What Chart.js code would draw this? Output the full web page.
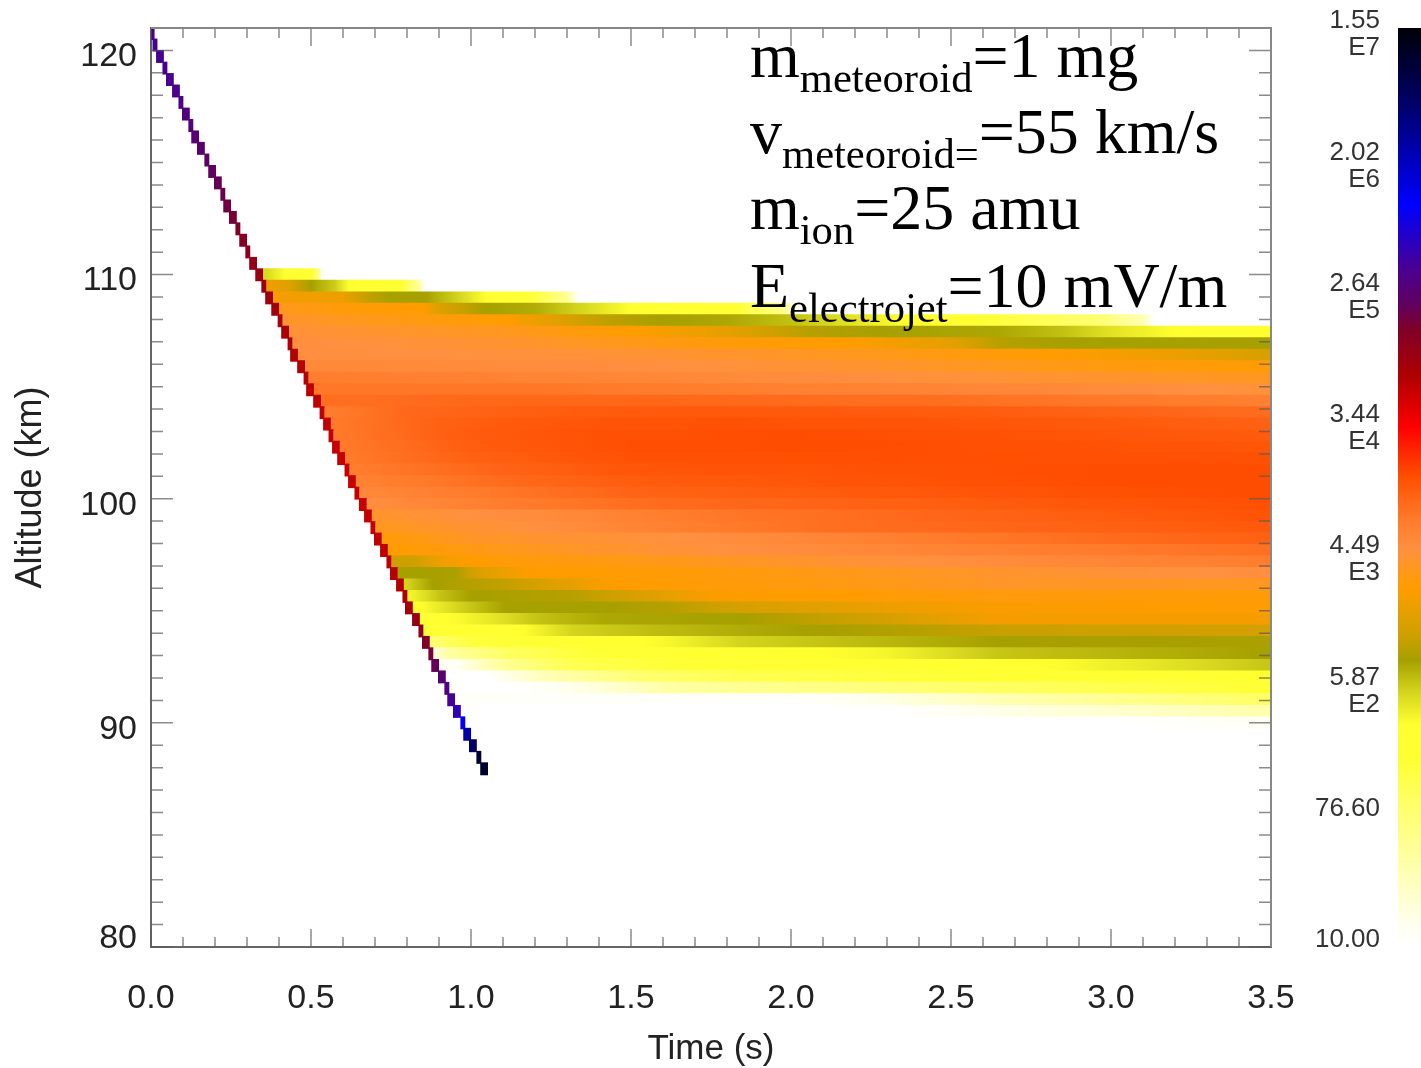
<!DOCTYPE html>
<html>
<head>
<meta charset="utf-8">
<title>Meteoroid plasma density</title>
<script src="https://cdn.jsdelivr.net/npm/chart.js@4"></script>
<style>
    body { margin: 0; background: #fff; overflow: hidden; }
    #plot { position: absolute; left: 0; top: 0; }
    #colorbar { position: absolute; left: 1290px; top: 0; }
</style>
</head>
<body>
<canvas id="plot" width="1421" height="1068"></canvas>
<canvas id="colorbar" width="131" height="1068"></canvas>
<script>
// axis values
const timeLabels = [0, 0.5, 1, 1.5, 2, 2.5, 3, 3.5];
const altitudeLabels = [80, 90, 100, 110, 120];
const timeTicks = [0, .1, .2, .3, .4, .5, .6, .7, .8, .9, 1, 1.1, 1.2, 1.3, 1.4, 1.5, 1.6, 1.7, 1.8, 1.9, 2, 2.1, 2.2, 2.3, 2.4, 2.5, 2.6, 2.7, 2.8, 2.9, 3, 3.1, 3.2, 3.3, 3.4, 3.5];
const altitudeTicks = [80, 81, 82, 83, 84, 85, 86, 87, 88, 89, 90, 91, 92, 93, 94, 95, 96, 97, 98, 99, 100, 101, 102, 103, 104, 105, 106, 107, 108, 109, 110, 111, 112, 113, 114, 115, 116, 117, 118, 119, 120];

// colour bar
const barTicks = [10, 76.6, 587, 4490, 34400, 264000, 2020000, 15500000];
const barLabels = [['10.00', ''], ['76.60', ''], ['5.87', 'E2'], ['4.49', 'E3'], ['3.44', 'E4'], ['2.64', 'E5'], ['2.02', 'E6'], ['1.55', 'E7']];
const rampLevels = [1, 1.15, 1.52, 1.92, 2.26, 2.5, 2.7, 2.93, 3.07, 3.22, 3.41, 3.49, 3.68, 3.88, 4.18, 4.5, 4.84, 5.16, 5.33, 5.56, 6, 6.64, 7.19];
const rampColors = ['#ffffff', '#fffff0', '#ffffb0', '#ffff70', '#ffff35', '#ffff30', '#d8d820', '#a6a000', '#c8a000', '#e0a000', '#ff9c00', '#ff9a10', '#ff9040', '#ff7a2a', '#ff4d00', '#ff0000', '#b00000', '#800028', '#600060', '#4a0090', '#0000ff', '#000070', '#000008'];

// meteoroid head, one cell per altitude step (density as log10)
const headAlt = [120.75, 120.24, 119.73, 119.21, 118.70, 118.19, 117.68, 117.16, 116.65, 116.14, 115.63, 115.11, 114.60, 114.09, 113.58, 113.06, 112.55, 112.04, 111.53, 111.01, 110.50, 109.99, 109.48, 108.96, 108.45, 107.94, 107.43, 106.91, 106.40, 105.89, 105.38, 104.86, 104.35, 103.84, 103.33, 102.81, 102.30, 101.79, 101.28, 100.76, 100.25, 99.74, 99.23, 98.71, 98.20, 97.69, 97.18, 96.66, 96.15, 95.64, 95.13, 94.61, 94.10, 93.59, 93.08, 92.56, 92.05, 91.54, 91.03, 90.51, 90.00, 89.49, 88.98, 88.46, 87.95];
const headStart = [0, .007, .018, .038, .049, .068, .088, .099, .119, .128, .146, .169, .181, .199, .219, .228, .246, .266, .278, .297, .309, .328, .347, .359, .378, .398, .409, .429, .437, .459, .479, .487, .509, .529, .540, .557, .568, .584, .607, .618, .638, .652, .668, .688, .699, .718, .738, .749, .768, .788, .796, .818, .838, .849, .869, .878, .899, .919, .928, .946, .969, .978, .996, 1.019, 1.031];
const headEnd = [.009, .018, .038, .049, .069, .088, .099, .119, .130, .148, .166, .180, .201, .219, .230, .248, .266, .277, .298, .308, .329, .348, .358, .379, .398, .409, .429, .440, .457, .479, .490, .507, .529, .540, .560, .568, .588, .604, .618, .638, .649, .672, .688, .699, .719, .738, .749, .769, .788, .799, .816, .838, .849, .869, .880, .898, .919, .930, .948, .966, .980, .998, 1.016, 1.030, 1.051];
const headLevels = [5.58, 5.58, 5.57, 5.56, 5.56, 5.55, 5.52, 5.48, 5.45, 5.42, 5.39, 5.36, 5.33, 5.30, 5.27, 5.24, 5.20, 5.16, 5.12, 5.08, 5.04, 5.00, 4.97, 4.94, 4.92, 4.90, 4.88, 4.86, 4.84, 4.82, 4.80, 4.79, 4.78, 4.77, 4.76, 4.75, 4.75, 4.74, 4.74, 4.74, 4.74, 4.74, 4.75, 4.75, 4.76, 4.77, 4.79, 4.81, 4.83, 4.86, 4.92, 5.0, 5.08, 5.16, 5.22, 5.3, 5.4, 5.5, 5.58, 5.72, 5.98, 6.4, 6.7, 6.95, 7.0];

// plasma rows behind the head: the first row sits at headAlt[21], next rows follow it down
const firstRow = 21;
const rowTimes = [
    [.36, .42, .50, .525, .535],
    [.37, .42, .50, .575, .62, .78, .84, .857],
    [.38, .60, .68, .75, .86, .96, 1.05, 1.20, 1.30, 1.34],
    [.40, .60, .85, .90, 1.05, 1.20, 1.37, 1.50, 1.80, 1.97, 2.03],
    [.42, .80, 1.10, 1.25, 1.40, 1.60, 1.80, 2.00, 2.30, 2.65, 2.97, 3.10, 3.14],
    [.44, 1.10, 1.50, 1.80, 2.05, 2.30, 2.65, 2.85, 3.00, 3.20, 3.50],
    [.45, 1.20, 1.80, 2.20, 2.50, 2.65, 2.85, 3.20, 3.50],
    [.47, 1.40, 2.20, 2.80, 3.20, 3.50],
    [.49, 1.50, 2.30, 2.90, 3.50],
    [.50, 1.30, 2.00, 2.80, 3.50],
    [.52, 1.20, 2.00, 2.80, 3.50],
    [.54, 1.00, 1.60, 2.50, 3.50],
    [.55, .80, 1.30, 1.80, 2.60, 3.50],
    [.57, .90, 1.30, 1.80, 2.60, 3.50],
    [.58, .95, 1.40, 2.00, 2.60, 3.50],
    [.60, 1.00, 1.50, 2.20, 3.50],
    [.62, 1.00, 1.50, 2.30, 3.50],
    [.63, 1.10, 1.50, 2.30, 3.00, 3.50],
    [.65, 1.10, 1.50, 2.30, 3.00, 3.50],
    [.66, 1.10, 1.50, 2.30, 3.00, 3.50],
    [.68, 1.10, 1.60, 2.40, 3.00, 3.50],
    [.70, 1.00, 1.30, 1.80, 2.50, 3.00, 3.50],
    [.71, 1.10, 1.60, 2.10, 2.80, 3.50],
    [.73, 1.00, 1.50, 2.00, 2.40, 3.00, 3.50],
    [.75, 1.00, 1.42, 1.80, 2.65, 3.50],
    [.76, .82, .92, 1.10, 1.60, 2.00, 2.65, 3.50],
    [.78, .95, 1.03, 1.18, 1.70, 2.65, 3.50],
    [.80, .88, 1.11, 1.27, 1.45, 2.20, 2.65, 3.50],
    [.81, .90, 1.00, 1.32, 1.53, 1.75, 2.65, 3.50],
    [.83, .96, 1.11, 1.42, 1.63, 1.84, 2.30, 2.65, 3.50],
    [.85, 1.06, 1.22, 1.42, 1.84, 2.20, 2.65, 3.50],
    [.86, 1.16, 1.32, 1.53, 1.84, 2.30, 2.65, 3.50],
    [.88, 1.00, 1.42, 1.63, 1.84, 2.65, 3.50],
    [.89, .93, 1.11, 1.42, 1.84, 2.30, 2.65, 3.50],
    [.95, 1.00, 1.11, 1.32, 1.84, 2.65, 3.12, 3.50],
    [1.05, 1.11, 1.25, 1.53, 1.84, 2.65, 3.50],
    [1.15, 1.42, 1.63, 1.84, 2.65, 3.50],
    [2.03, 2.30, 2.65, 3.50],
    [2.30, 2.65, 3.50],
    [3.00, 3.50]
];
const rowLevels = [
    [2.7, 2.5, 2.3, 1.8, 1.0],
    [3.3, 3.25, 2.93, 2.75, 2.5, 2.3, 1.6, 1.0],
    [3.35, 3.3, 3.05, 2.93, 2.93, 2.72, 2.5, 2.2, 1.7, 1.0],
    [3.55, 3.45, 3.41, 3.2, 2.93, 2.88, 2.68, 2.5, 2.35, 1.8, 1.0],
    [3.6, 3.5, 3.41, 3.25, 3.05, 2.93, 2.9, 2.8, 2.55, 2.2, 1.9, 1.5, 1.0],
    [3.65, 3.55, 3.41, 3.25, 3.0, 2.93, 2.9, 2.8, 2.65, 2.5, 2.4],
    [3.7, 3.6, 3.45, 3.4, 3.25, 3.0, 2.93, 2.93, 2.93],
    [3.7, 3.65, 3.55, 3.42, 3.3, 3.15],
    [3.75, 3.7, 3.6, 3.5, 3.42],
    [3.85, 3.78, 3.72, 3.62, 3.55],
    [3.9, 3.9, 3.82, 3.75, 3.65],
    [3.95, 4.0, 4.0, 3.95, 3.82],
    [3.85, 4.0, 4.08, 4.1, 4.08, 3.97],
    [3.88, 4.05, 4.12, 4.15, 4.12, 4.05],
    [3.88, 4.07, 4.15, 4.18, 4.15, 4.08],
    [3.88, 4.07, 4.17, 4.18, 4.12],
    [3.88, 4.05, 4.15, 4.17, 4.15],
    [3.85, 4.03, 4.12, 4.15, 4.18, 4.18],
    [3.8, 3.98, 4.08, 4.14, 4.18, 4.18],
    [3.75, 3.9, 4.03, 4.1, 4.16, 4.18],
    [3.7, 3.85, 3.98, 4.06, 4.12, 4.16],
    [3.6, 3.68, 3.75, 3.9, 4.02, 4.08, 4.14],
    [3.55, 3.65, 3.82, 3.95, 4.03, 4.1],
    [3.45, 3.58, 3.65, 3.75, 3.85, 3.98, 4.05],
    [3.41, 3.5, 3.6, 3.68, 3.82, 3.95],
    [3.1, 3.1, 3.35, 3.45, 3.52, 3.6, 3.72, 3.85],
    [2.93, 2.95, 3.2, 3.4, 3.45, 3.6, 3.7],
    [2.72, 2.93, 3.05, 3.22, 3.41, 3.5, 3.58, 3.55],
    [2.55, 2.78, 2.93, 3.0, 3.18, 3.38, 3.47, 3.44],
    [2.48, 2.72, 2.93, 2.93, 3.0, 3.15, 3.3, 3.38, 3.42],
    [2.42, 2.62, 2.8, 2.9, 2.93, 3.1, 3.35, 3.35],
    [2.35, 2.5, 2.72, 2.8, 2.88, 2.98, 3.07, 3.15],
    [1.9, 2.2, 2.45, 2.55, 2.72, 2.93, 2.95],
    [1.3, 1.6, 2.0, 2.3, 2.45, 2.55, 2.78, 2.93],
    [1.1, 1.3, 1.7, 2.1, 2.35, 2.45, 2.62, 2.78],
    [1.0, 1.2, 1.5, 1.92, 2.1, 2.3, 2.48],
    [1.0, 1.3, 1.6, 1.7, 2.0, 2.28],
    [1.05, 1.2, 1.5, 2.0],
    [1.0, 1.2, 1.55],
    [1.0, 1.1]
];

// text block on top of the plot: [symbol, subscript, rest]
const noteLines = [
    ['m', 'meteoroid', '=1 mg'],
    ['v', 'meteoroid=', '=55 km/s'],
    ['m', 'ion', '=25 amu'],
    ['E', 'electrojet', '=10 mV/m']
];
const noteBaselines = [77, 153, 229, 307];

const rampRgb = rampColors.map(c => [parseInt(c.slice(1, 3), 16), parseInt(c.slice(3, 5), 16), parseInt(c.slice(5, 7), 16)]);

function rampColor(level) {
    let i = 0;
    while (i < rampLevels.length - 2 && level > rampLevels[i + 1]) i++;
    const f = Math.max(0, Math.min(1, (level - rampLevels[i]) / (rampLevels[i + 1] - rampLevels[i])));
    const rgb = rampRgb[i].map((v, n) => Math.round(v + (rampRgb[i + 1][n] - v) * f));
    return `rgb(${rgb[0]},${rgb[1]},${rgb[2]})`;
}

// a row keeps its read values, the gradient only needs extra stops so it follows the ramp
function rowGradient(chart, index) {
    const xs = chart.scales.x;
    const left = xs.getPixelForValue(0);
    const right = xs.getPixelForValue(3.5);
    const gradient = chart.ctx.createLinearGradient(left, 0, right, 0);
    const times = rowTimes[index];
    const levels = rowLevels[index];
    for (let i = 0; i < times.length; i++) {
        gradient.addColorStop(times[i] / 3.5, rampColor(levels[i]));
        if (i === times.length - 1) break;
        for (let s = 1; s < 6; s++) {
            const t = times[i] + (times[i + 1] - times[i]) * s / 6;
            const l = levels[i] + (levels[i + 1] - levels[i]) * s / 6;
            gradient.addColorStop(t / 3.5, rampColor(l));
        }
    }
    return gradient;
}

const rowBars = rowTimes.map((times, i) => ({
    y: headAlt[firstRow + i],
    x: [headEnd[firstRow + i] + .004, times[times.length - 1]]
}));
const headBars = headAlt.map((alt, i) => ({ y: alt, x: [headStart[i], headEnd[i]] }));

// inward ticks on all four sides and the top and right frame lines
const frameTicks = {
    id: 'frameTicks',
    afterDatasetsDraw(chart) {
        const { ctx, chartArea: a, scales } = chart;
        ctx.save();
        ctx.strokeStyle = 'rgba(90,90,90,0.7)';
        ctx.lineWidth = 1.5;
        ctx.beginPath();
        timeTicks.forEach(t => {
            const x = scales.x.getPixelForValue(t);
            const len = timeLabels.includes(t) ? 18 : 10;
            ctx.moveTo(x, a.bottom); ctx.lineTo(x, a.bottom - len);
            ctx.moveTo(x, a.top); ctx.lineTo(x, a.top + len);
        });
        altitudeTicks.forEach(h => {
            const y = scales.y.getPixelForValue(h);
            const len = altitudeLabels.includes(h) ? 22 : 12;
            ctx.moveTo(a.left, y); ctx.lineTo(a.left + len, y);
            ctx.moveTo(a.right, y); ctx.lineTo(a.right - len, y);
        });
        ctx.stroke();
        ctx.strokeStyle = '#888';
        ctx.lineWidth = 2;
        ctx.beginPath();
        ctx.moveTo(a.left, a.top); ctx.lineTo(a.right, a.top); ctx.lineTo(a.right, a.bottom);
        ctx.stroke();
        ctx.restore();
    }
};

const noteText = {
    id: 'noteText',
    afterDraw(chart) {
        const ctx = chart.ctx;
        ctx.save();
        ctx.fillStyle = '#000';
        ctx.textBaseline = 'alphabetic';
        noteLines.forEach((line, i) => {
            let x = 750;
            ctx.font = '64px "Liberation Serif"';
            ctx.fillText(line[0], x, noteBaselines[i]);
            x += ctx.measureText(line[0]).width;
            ctx.font = '42.6px "Liberation Serif"';
            ctx.fillText(line[1], x, noteBaselines[i] + 15);
            x += ctx.measureText(line[1]).width;
            ctx.font = '64px "Liberation Serif"';
            ctx.fillText(line[2], x, noteBaselines[i]);
        });
        ctx.restore();
    }
};

const chart = new Chart(document.getElementById('plot'), {
    type: 'bar',
    plugins: [frameTicks, noteText],
    data: {
        datasets: [
            {
                label: 'Meteoroid head',
                data: headBars,
                inflateAmount: 0.7,
                backgroundColor: c => rampColor(headLevels[c.dataIndex])
            },
            {
                label: 'Plasma density',
                data: rowBars,
                inflateAmount: 0.7,
                backgroundColor: c => (c.chart.chartArea ? rowGradient(c.chart, c.dataIndex) : '#fff')
            }
        ]
    },
    options: {
        indexAxis: 'y',
        responsive: false,
        animation: false,
        grouped: false,
        barPercentage: 1.01,
        categoryPercentage: 1,
        borderSkipped: false,
        layout: { padding: { top: 28, right: 150 } },
        plugins: { legend: { display: false }, tooltip: { enabled: false } },
        scales: {
            x: {
                type: 'linear',
                min: 0,
                max: 3.5,
                grid: { display: false, drawTicks: false },
                border: { color: '#666', width: 2 },
                afterBuildTicks: s => { s.ticks = timeLabels.map(value => ({ value })); },
                afterFit: s => { s.height = 121; },
                ticks: {
                    autoSkip: false,
                    maxRotation: 0,
                    padding: 31,
                    color: '#222',
                    font: { family: 'Liberation Sans', size: 34 },
                    callback: v => v.toFixed(1)
                },
                title: { display: true, text: 'Time (s)', color: '#222', padding: 0, font: { family: 'Liberation Sans', size: 35, lineHeight: 1.05 } }
            },
            y: {
                type: 'linear',
                offset: false,
                min: 80,
                max: 121,
                grid: { display: false, drawTicks: false, offset: false },
                border: { color: '#666', width: 2 },
                afterBuildTicks: s => { s.ticks = altitudeLabels.map(value => ({ value })); },
                afterFit: s => { s.width = 151; s.paddingTop = 0; s.paddingBottom = 0; },
                ticks: {
                    autoSkip: false,
                    padding: 14,
                    labelOffset: 6.5,
                    color: '#222',
                    font: { family: 'Liberation Sans', size: 34, lineHeight: 0.88 },
                    // the lowest label sits above its tick in the original
                    callback: v => (v === 80 ? ['80', ''] : String(v))
                },
                title: { display: true, text: 'Altitude (km)', color: '#222', padding: 9, font: { family: 'Liberation Sans', size: 36 } }
            }
        }
    }
});

function barGradient(c) {
    const { chart: bar } = c;
    if (!bar.chartArea) return '#fff';
    const ys = bar.scales.y;
    const gradient = bar.ctx.createLinearGradient(0, ys.getPixelForValue(10), 0, ys.getPixelForValue(15500000));
    const span = 7.19 - 1;
    rampLevels.forEach((l, i) => gradient.addColorStop((l - 1) / span, rampColors[i]));
    return gradient;
}

const colorbar = new Chart(document.getElementById('colorbar'), {
    type: 'bar',
    data: {
        labels: ['Density'],
        datasets: [{ data: [[10, 15500000]], backgroundColor: barGradient }]
    },
    options: {
        responsive: false,
        animation: false,
        barPercentage: 1,
        categoryPercentage: 1,
        layout: { padding: { top: 28, bottom: 121 } },
        plugins: { legend: { display: false }, tooltip: { enabled: false } },
        scales: {
            x: { display: false },
            y: {
                type: 'logarithmic',
                min: 10,
                max: 15500000,
                grid: { display: false, drawTicks: false },
                border: { display: false },
                afterBuildTicks: s => { s.ticks = barTicks.map(value => ({ value })); },
                afterFit: s => { s.width = 108; s.paddingTop = 0; s.paddingBottom = 0; },
                ticks: {
                    autoSkip: false,
                    padding: 18,
                    labelOffset: 6.5,
                    color: '#333',
                    font: { family: 'Liberation Sans', size: 26, lineHeight: 1.04 },
                    callback: (v, i) => barLabels[i]
                }
            }
        }
    }
});
</script>
</body>
</html>
